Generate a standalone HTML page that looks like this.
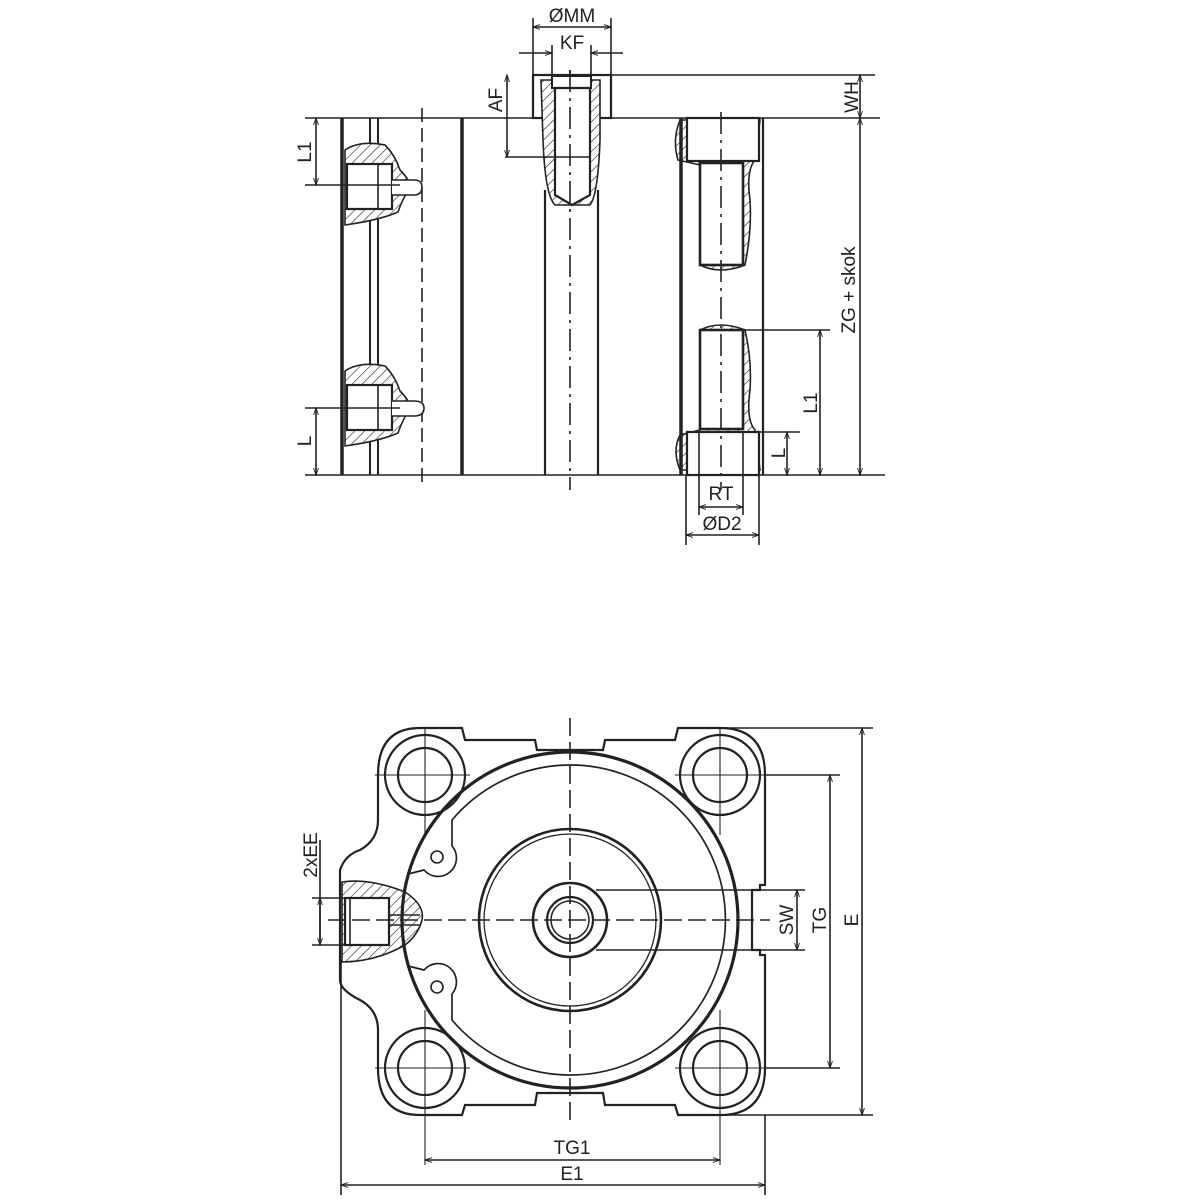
<!DOCTYPE html>
<html><head><meta charset="utf-8"><style>
html,body{margin:0;padding:0;background:#fff}
svg{display:block}
text{font-family:"Liberation Sans",sans-serif;fill:#222;font-size:19px}
</style></head><body>
<svg width="1200" height="1200" viewBox="0 0 1200 1200" xmlns="http://www.w3.org/2000/svg">
<defs>
<pattern id="h" patternUnits="userSpaceOnUse" width="7" height="7" patternTransform="rotate(45)">
<rect width="7" height="7" fill="#fff"/><line x1="0" y1="0" x2="0" y2="7" stroke="#333" stroke-width="1.3"/>
</pattern>
<marker id="a" viewBox="0 0 10 10" refX="10" refY="5" markerWidth="9" markerHeight="7" orient="auto-start-reverse" markerUnits="userSpaceOnUse"><path d="M0,1.5 L10,5 L0,8.5" fill="none" stroke="#222" stroke-width="1.3"/></marker>
</defs>
<g stroke="#222" fill="none" stroke-width="1.6">
<!-- ================= TOP VIEW ================= -->
<line x1="305" y1="118" x2="533" y2="118"/>
<line x1="611" y1="118" x2="880" y2="118"/>
<line x1="305" y1="475" x2="885" y2="475"/>
<line x1="533" y1="75" x2="875" y2="75"/>
<line x1="342" y1="118" x2="342" y2="475" stroke-width="3.5"/>
<line x1="370" y1="118" x2="370" y2="475" stroke-width="2"/>
<line x1="378" y1="118" x2="378" y2="475" stroke-width="2"/>
<line x1="422" y1="108" x2="422" y2="488" stroke-dasharray="14,6"/>
<line x1="462" y1="118" x2="462" y2="475" stroke-width="3.5"/>
<line x1="545" y1="190" x2="545" y2="475" stroke-width="2.2"/>
<line x1="598" y1="190" x2="598" y2="475" stroke-width="2.2"/>
<line x1="570" y1="70" x2="570" y2="490" stroke-dasharray="22,6,3,6"/>
<g>
<path d="M345,150 Q360,140 385,145 Q395,155 400,170 Q410,180 410,187 Q402,200 398,212 Q380,220 345,225 Z" fill="url(#h)"/>
<rect x="347" y="164" width="45" height="45" fill="#fff" stroke-width="2.2"/>
<line x1="378" y1="164" x2="378" y2="209"/>
<path d="M392,180 L414,180 Q422,180 422,187 Q422,195 414,195 L392,195" fill="#fff"/>
</g>
<g transform="translate(0,221)">
<path d="M345,150 Q360,140 385,145 Q395,155 400,170 Q410,180 410,187 Q402,200 398,212 Q380,220 345,225 Z" fill="url(#h)"/>
<rect x="347" y="164" width="45" height="45" fill="#fff" stroke-width="2.2"/>
<line x1="378" y1="164" x2="378" y2="209"/>
<path d="M392,180 L414,180 Q424,180 424,187 Q424,195 414,195 L392,195" fill="#fff"/>
</g>
<line x1="305" y1="185" x2="400" y2="185"/>
<line x1="316" y1="118" x2="316" y2="185" marker-start="url(#a)" marker-end="url(#a)"/>
<line x1="305" y1="408" x2="400" y2="408"/>
<line x1="316" y1="408" x2="316" y2="475" marker-start="url(#a)" marker-end="url(#a)"/>
<rect x="533" y="75" width="78" height="43" fill="#fff" stroke-width="2.2"/>
<path d="M541,80 L600,80 L600,140 Q598,195 590,205 L555,205 Q545,195 543,140 Z" fill="url(#h)"/>
<rect x="552" y="76" width="39" height="12" fill="#fff" stroke-width="2"/>
<path d="M555,88 L590,88 L590,195 L572,205 L555,195 Z" fill="#fff" stroke-width="2.2"/>
<line x1="555" y1="157" x2="590" y2="157"/>
<line x1="570" y1="70" x2="570" y2="210" stroke-dasharray="22,6,3,6"/>
<line x1="533" y1="18" x2="533" y2="75"/><line x1="611" y1="18" x2="611" y2="75"/>
<line x1="533" y1="27" x2="611" y2="27" marker-start="url(#a)" marker-end="url(#a)"/>
<line x1="552" y1="45" x2="552" y2="75"/><line x1="591" y1="45" x2="591" y2="75"/>
<line x1="519" y1="53" x2="552" y2="53" marker-end="url(#a)"/>
<line x1="623" y1="53" x2="591" y2="53" marker-end="url(#a)"/>
<line x1="505" y1="157" x2="555" y2="157"/>
<line x1="507" y1="75" x2="507" y2="157" marker-start="url(#a)" marker-end="url(#a)"/>
<path d="M680,120 Q672,140 678,160 L700,165 L700,265 Q720,275 745,265 Q752,230 750,200 Q746,170 755,160 L760,120 Z" fill="url(#h)"/>
<path d="M680,470 Q672,450 680,435 L700,430 L700,330 Q720,320 745,330 Q752,360 750,390 Q746,420 755,430 L760,470 Z" fill="url(#h)"/>
<line x1="681" y1="118" x2="681" y2="475" stroke-width="3.5"/>
<line x1="763" y1="118" x2="763" y2="475" stroke-width="2.2"/>
<rect x="687" y="118" width="72" height="43" fill="#fff" stroke-width="2.2"/>
<rect x="700" y="163" width="43" height="102" fill="#fff" stroke-width="2.6"/>
<rect x="700" y="330" width="43" height="99" fill="#fff" stroke-width="2.6"/>
<rect x="687" y="432" width="72" height="43" fill="#fff" stroke-width="2.2"/>
<line x1="699" y1="432" x2="699" y2="475"/><line x1="743" y1="432" x2="743" y2="475"/>
<line x1="721" y1="112" x2="721" y2="490" stroke-dasharray="22,6,3,6"/>
<line x1="743" y1="330" x2="830" y2="330"/>
<line x1="760" y1="432" x2="800" y2="432"/>
<line x1="820" y1="330" x2="820" y2="475" marker-start="url(#a)" marker-end="url(#a)"/>
<line x1="787" y1="432" x2="787" y2="475" marker-start="url(#a)" marker-end="url(#a)"/>
<line x1="860" y1="118" x2="860" y2="475" marker-start="url(#a)" marker-end="url(#a)"/>
<line x1="860" y1="75" x2="860" y2="118" marker-start="url(#a)" marker-end="url(#a)"/>
<line x1="699" y1="475" x2="699" y2="515"/><line x1="743" y1="475" x2="743" y2="515"/>
<line x1="699" y1="507" x2="743" y2="507" marker-start="url(#a)" marker-end="url(#a)"/>
<line x1="686" y1="475" x2="686" y2="545"/><line x1="759" y1="475" x2="759" y2="545"/>
<line x1="686" y1="535" x2="759" y2="535" marker-start="url(#a)" marker-end="url(#a)"/>

<!-- ================= BOTTOM VIEW ================= -->
<path d="M420,728 L462,728 L465,740 L535,740 L537,750 L603,750 L605,740 L675,740 L678,728 L720,728 Q765,728 765,775 L765,885 L760,885 L760,890 L752,890 L752,950 L760,950 L760,955 L765,955 L765,1068 Q765,1115 720,1115 L678,1115 L675,1105 L605,1105 L603,1093 L537,1093 L535,1105 L465,1105 L462,1115 L420,1115 Q378,1115 378,1068 L378,1030 Q378,1010 360,1000 Q340,990 340,980 L340,870 Q345,855 360,850 Q378,840 378,820 L378,775 Q378,728 420,728 Z" stroke-width="2.2"/>
<path d="M342,882 Q370,878 405,892 Q425,905 422,920 Q418,935 405,945 Q375,962 342,962 Z" fill="url(#h)"/>
<rect x="345" y="898" width="44" height="47" fill="#fff" stroke-width="2.2"/>
<line x1="350" y1="898" x2="350" y2="945"/>
<line x1="389" y1="915" x2="420" y2="915"/><line x1="389" y1="925" x2="420" y2="925"/>
<circle cx="570" cy="920" r="168" stroke-width="3.2" fill="none"/>
<path d="M408,874 L424,870 A18,18 0 1,0 452,846 L452,820 A155,155 0 1,1 452,1020 L452,994 A18,18 0 1,0 424,970 L408,966" stroke-width="1.7"/>
<circle cx="437" cy="857" r="6"/><circle cx="437" cy="987" r="6"/>
<circle cx="570" cy="920" r="91" stroke-width="2.6"/>
<circle cx="570" cy="920" r="86" stroke-width="1.3"/>
<circle cx="570" cy="920" r="37" stroke-width="2.6"/>
<circle cx="570" cy="920" r="23" stroke-width="2.2"/>
<circle cx="570" cy="920" r="19" stroke-width="1.5"/>
<g stroke-width="2.2">
<circle cx="425" cy="775" r="40"/><circle cx="425" cy="775" r="27"/>
<circle cx="720" cy="775" r="40"/><circle cx="720" cy="775" r="27"/>
<circle cx="425" cy="1068" r="40"/><circle cx="425" cy="1068" r="27"/>
<circle cx="720" cy="1068" r="40"/><circle cx="720" cy="1068" r="27"/>
</g>
<g stroke-width="1.1">
<line x1="375" y1="775" x2="470" y2="775"/><line x1="425" y1="728" x2="425" y2="835"/>
<line x1="675" y1="775" x2="770" y2="775"/><line x1="720" y1="728" x2="720" y2="835"/>
<line x1="375" y1="1068" x2="470" y2="1068"/><line x1="425" y1="1010" x2="425" y2="1165"/>
<line x1="675" y1="1068" x2="770" y2="1068"/><line x1="720" y1="1010" x2="720" y2="1165"/>
</g>
<line x1="570" y1="718" x2="570" y2="1125" stroke-dasharray="18,6"/>
<line x1="328" y1="920" x2="770" y2="920" stroke-dasharray="18,6"/>
<line x1="596" y1="890" x2="805" y2="890"/><line x1="596" y1="950" x2="805" y2="950"/>
<line x1="797" y1="890" x2="797" y2="950" marker-start="url(#a)" marker-end="url(#a)"/>
<line x1="765" y1="775" x2="840" y2="775"/><line x1="765" y1="1068" x2="840" y2="1068"/>
<line x1="830" y1="775" x2="830" y2="1068" marker-start="url(#a)" marker-end="url(#a)"/>
<line x1="720" y1="728" x2="873" y2="728"/><line x1="720" y1="1115" x2="873" y2="1115"/>
<line x1="862" y1="728" x2="862" y2="1115" marker-start="url(#a)" marker-end="url(#a)"/>
<line x1="425" y1="1160" x2="720" y2="1160" marker-start="url(#a)" marker-end="url(#a)"/>
<line x1="341" y1="960" x2="341" y2="1195"/><line x1="765" y1="1115" x2="765" y2="1195"/>
<line x1="341" y1="1185" x2="765" y2="1185" marker-start="url(#a)" marker-end="url(#a)"/>
<line x1="312" y1="898" x2="345" y2="898"/><line x1="312" y1="945" x2="345" y2="945"/>
<line x1="320" y1="840" x2="320" y2="945" marker-end="url(#a)"/>
<line x1="320" y1="945" x2="320" y2="898" marker-end="url(#a)"/>
</g>
<g stroke="none">
<text x="572" y="22" text-anchor="middle">ØMM</text>
<text x="572" y="49" text-anchor="middle">KF</text>
<text transform="translate(502,100) rotate(-90)" text-anchor="middle">AF</text>
<text transform="translate(858,97) rotate(-90)" text-anchor="middle">WH</text>
<text transform="translate(855,290) rotate(-90)" text-anchor="middle">ZG + skok</text>
<text transform="translate(817,403) rotate(-90)" text-anchor="middle">L1</text>
<text transform="translate(785,453) rotate(-90)" text-anchor="middle">L</text>
<text x="721" y="500" text-anchor="middle">RT</text>
<text x="722" y="530" text-anchor="middle">ØD2</text>
<text transform="translate(311,152) rotate(-90)" text-anchor="middle">L1</text>
<text transform="translate(311,441) rotate(-90)" text-anchor="middle">L</text>
<text transform="translate(317,855) rotate(-90)" text-anchor="middle">2xEE</text>
<text transform="translate(793,920) rotate(-90)" text-anchor="middle">SW</text>
<text transform="translate(826,920) rotate(-90)" text-anchor="middle">TG</text>
<text transform="translate(858,920) rotate(-90)" text-anchor="middle">E</text>
<text x="572" y="1154" text-anchor="middle">TG1</text>
<text x="572" y="1180" text-anchor="middle">E1</text>
</g>
</svg>
</body></html>
